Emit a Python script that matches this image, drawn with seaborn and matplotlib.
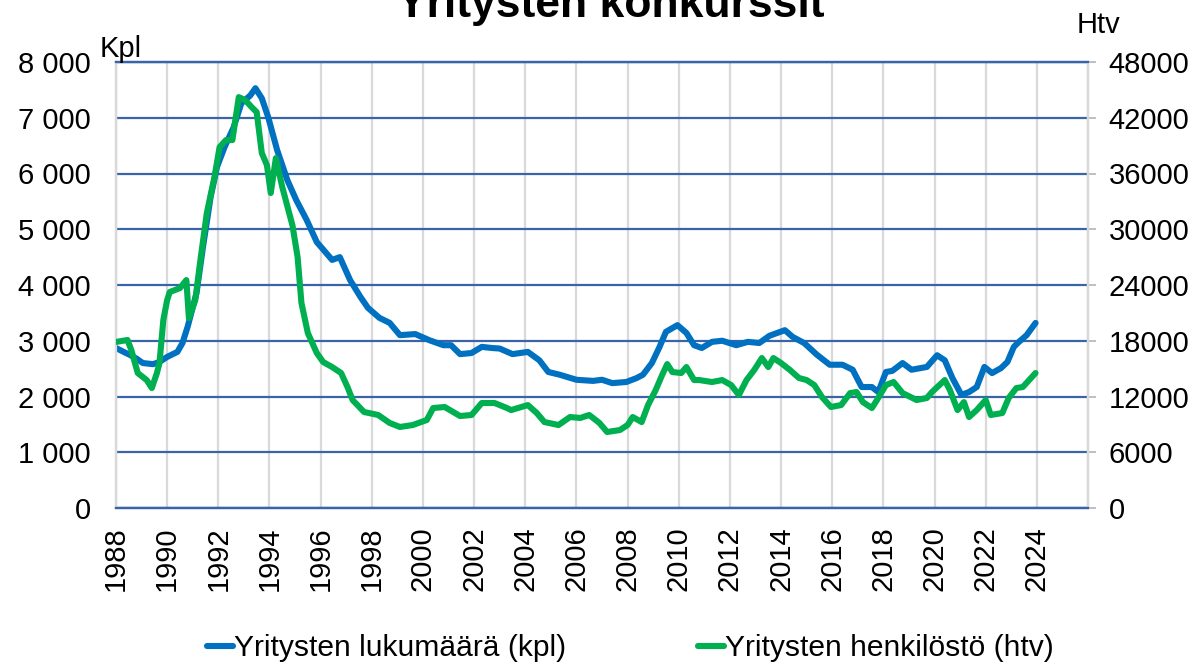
import matplotlib
matplotlib.use("Agg")
import matplotlib.pyplot as plt
import matplotlib.ticker as mticker
import numpy as np
import pandas as pd
import seaborn as sns

# ---- data ----
kpl_year = [1988.0, 1988.3, 1988.55, 1988.8, 1989.05, 1989.45, 1989.7, 1990.0, 1990.4, 1990.6,
            1990.8, 1991.15, 1991.4, 1991.7, 1991.95, 1992.25, 1992.6, 1992.9, 1993.25, 1993.45,
            1993.7, 1993.95, 1994.3, 1994.7, 1995.05, 1995.45, 1995.85, 1996.45, 1996.75, 1997.15,
            1997.55, 1997.85, 1998.3, 1998.7, 1999.1, 1999.7, 2000.25, 2000.8, 2001.1, 2001.45,
            2001.9, 2002.3, 2002.7, 2003.0, 2003.5, 2004.1, 2004.55, 2004.9, 2005.35, 2006.0,
            2006.65, 2007.0, 2007.4, 2007.95, 2008.35, 2008.6, 2008.95, 2009.25, 2009.5, 2009.95,
            2010.3, 2010.6, 2010.9, 2011.3, 2011.7, 2012.25, 2012.7, 2013.15, 2013.55, 2014.15,
            2014.45, 2014.9, 2015.4, 2015.9, 2016.4, 2016.8, 2017.15, 2017.55, 2017.8, 2018.1,
            2018.35, 2018.75, 2019.1, 2019.7, 2020.1, 2020.4, 2020.7, 2021.05, 2021.35, 2021.65,
            2021.95, 2022.25, 2022.6, 2022.85, 2023.1, 2023.3, 2023.6, 2023.95]
kpl_value = [2870, 2800, 2745, 2680, 2600, 2580, 2620, 2710, 2800, 2960,
             3250, 3860, 4680, 5580, 6120, 6480, 6830, 7260, 7400, 7530,
             7350, 7010, 6420, 5880, 5520, 5170, 4770, 4450, 4500, 4090,
             3790, 3590, 3410, 3320, 3100, 3120, 3010, 2920, 2920, 2760,
             2780, 2890, 2870, 2860, 2760, 2800, 2650, 2440, 2390, 2300,
             2280, 2300, 2240, 2260, 2330, 2390, 2600, 2890, 3160, 3280,
             3140, 2920, 2870, 2980, 3000, 2920, 2980, 2960, 3090, 3190,
             3070, 2960, 2750, 2570, 2570, 2480, 2170, 2170, 2080, 2440,
             2460, 2600, 2480, 2530, 2740, 2650, 2330, 2030, 2080, 2170,
             2530, 2420, 2510, 2620, 2890, 2980, 3100, 3320]

htv_year = [1988.0, 1988.45, 1988.6, 1988.85, 1989.2, 1989.4, 1989.6, 1989.7, 1989.85, 1990.0,
            1990.1, 1990.5, 1990.75, 1990.85, 1991.1, 1991.3, 1991.55, 1991.85, 1992.05, 1992.3,
            1992.55, 1992.8, 1993.05, 1993.3, 1993.5, 1993.7, 1993.9, 1994.05, 1994.25, 1994.5,
            1994.9, 1995.1, 1995.25, 1995.5, 1995.85, 1996.1, 1996.45, 1996.8, 1997.05, 1997.25,
            1997.7, 1998.25, 1998.7, 1999.1, 1999.6, 2000.15, 2000.4, 2000.85, 2001.45, 2001.9,
            2002.3, 2002.8, 2003.25, 2003.45, 2004.1, 2004.45, 2004.75, 2005.3, 2005.75, 2006.15,
            2006.5, 2006.9, 2007.2, 2007.7, 2008.0, 2008.2, 2008.55, 2008.8, 2009.1, 2009.35,
            2009.55, 2009.75, 2010.1, 2010.3, 2010.6, 2010.8, 2011.3, 2011.7, 2012.05, 2012.35,
            2012.65, 2012.95, 2013.25, 2013.5, 2013.7, 2014.0, 2014.35, 2014.7, 2015.0, 2015.3,
            2015.6, 2015.95, 2016.35, 2016.7, 2016.95, 2017.2, 2017.55, 2017.75, 2018.1, 2018.4,
            2018.75, 2019.3, 2019.7, 2019.9, 2020.4, 2020.6, 2020.9, 2021.15, 2021.35, 2021.65,
            2022.0, 2022.2, 2022.65, 2022.9, 2023.2, 2023.45, 2023.7, 2023.95]
htv_value = [17870, 18080, 17000, 14530, 13770, 12910, 14530, 15600, 20230, 22380,
             23240, 23670, 24530, 20440, 22380, 26680, 31740, 35620, 38840, 39600,
             39600, 44220, 43900, 43150, 42600, 38200, 36900, 33900, 37660, 34540,
             30400, 27000, 22060, 18830, 16680, 15710, 15170, 14530, 13020, 11620,
             10330, 10010, 9150, 8720, 8930, 9470, 10760, 10870, 9900, 10010,
             11300, 11300, 10800, 10540, 11080, 10220, 9250, 8930, 9790, 9690,
             10010, 9150, 8180, 8390, 8930, 9790, 9250, 11080, 12700, 14310,
             15490, 14630, 14530, 15170, 13770, 13770, 13560, 13770, 13230, 12160,
             13770, 14850, 16140, 15170, 16140, 15600, 14850, 13990, 13770, 13230,
             11940, 10870, 11080, 12370, 12480, 11400, 10760, 11620, 13230, 13560,
             12370, 11620, 11840, 12480, 13770, 12700, 10540, 11400, 9790, 10540,
             11620, 10010, 10220, 11840, 12910, 13020, 13770, 14530]

x_ticks = list(range(1988, 2027, 2))
x_tick_labels = [str(y) if y <= 2024 else "" for y in x_ticks]
left_ticks = list(range(0, 8001, 1000))
right_ticks = list(range(0, 48001, 6000))

title = "Yritysten konkurssit"
label_kpl = "Yritysten lukumäärä (kpl)"
label_htv = "Yritysten henkilöstö (htv)"

df_kpl = pd.DataFrame({"vuosi": kpl_year, "kpl": kpl_value})
df_htv = pd.DataFrame({"vuosi": htv_year, "htv": htv_value})

# ---- styling ----
sns.set_style("white")
plt.rcParams["font.family"] = ["Liberation Sans", "DejaVu Sans"]
plt.rcParams["text.color"] = "black"
plt.rcParams["xtick.labelcolor"] = "black"
plt.rcParams["ytick.labelcolor"] = "black"

BLUE = "#0070C0"
GREEN = "#00B050"
GRID_BLUE = "#3A64A8"
GRID_GRAY = "#D9D9D9"
FS = 21

fig = plt.figure(figsize=(11.96, 6.64), dpi=100)
ax = fig.add_axes([116 / 1196, 1 - 508 / 664, (1088 - 116) / 1196, (508 - 62) / 664])
ax2 = ax.twinx()

ax.set_xlim(1988, 2026)
ax.set_ylim(0, 8000)
ax2.set_ylim(0, 48000)

ax.set_axisbelow(True)
ax.set_xticks(x_ticks)
ax.set_xticklabels(x_tick_labels, rotation=90, fontsize=FS)
ax.set_yticks(left_ticks)
ax.yaxis.set_major_formatter(mticker.FuncFormatter(lambda v, p: f"{int(v):,}".replace(",", " ")))
ax2.set_yticks(right_ticks)
ax2.yaxis.set_major_formatter(mticker.FuncFormatter(lambda v, p: f"{int(v)}"))

ax.grid(axis="x", color=GRID_GRAY, linewidth=1.6)
ax.grid(axis="y", color=GRID_BLUE, linewidth=1.6)

sns.lineplot(data=df_kpl, x="vuosi", y="kpl", ax=ax, color=BLUE, linewidth=4.4,
             label=label_kpl, legend=False, zorder=3)
sns.lineplot(data=df_htv, x="vuosi", y="htv", ax=ax2, color=GREEN, linewidth=4.4,
             label=label_htv, legend=False, zorder=3)

for a in (ax, ax2):
    a.set_xlabel("")
    a.set_ylabel("")
    a.spines["left"].set_color(GRID_GRAY)
    a.spines["right"].set_color(GRID_GRAY)
    a.spines["left"].set_linewidth(1.6)
    a.spines["right"].set_linewidth(1.6)
    a.spines["bottom"].set_color(GRID_BLUE)
    a.spines["bottom"].set_linewidth(1.6)
    a.spines["top"].set_color(GRID_BLUE)
    a.spines["top"].set_linewidth(1.6)

ax.tick_params(axis="y", length=0, pad=18, labelsize=FS, colors="black")
ax.tick_params(axis="x", length=7, width=1.4, color=GRID_BLUE, pad=6, labelsize=FS,
               labelcolor="black", direction="out")
ax2.tick_params(axis="y", length=6, width=1.4, color="#BFBFBF", pad=9, labelsize=FS,
                labelcolor="black", direction="out")

fig.text(611 / 1196, 1 - 17 / 664, title, ha="center", va="baseline", fontsize=32,
         fontweight="bold", color="black")
fig.text(100 / 1196, 1 - 57 / 664, "Kpl", ha="left", va="baseline", fontsize=FS)
fig.text(1077 / 1196, 1 - 33 / 664, "Htv", ha="left", va="baseline", fontsize=FS)

h1, l1 = ax.get_legend_handles_labels()
h2, l2 = ax2.get_legend_handles_labels()
leg = fig.legend(h1 + h2, l1 + l2, loc="center left", bbox_to_anchor=(207 / 1196, 1 - 648 / 664),
                 ncol=2, frameon=False, fontsize=21.6, handlelength=0.85, handletextpad=0.05,
                 columnspacing=4.4, borderpad=0, borderaxespad=0)
for t in leg.get_texts():
    t.set_color("black")

fig.savefig("out.png", dpi=100)
